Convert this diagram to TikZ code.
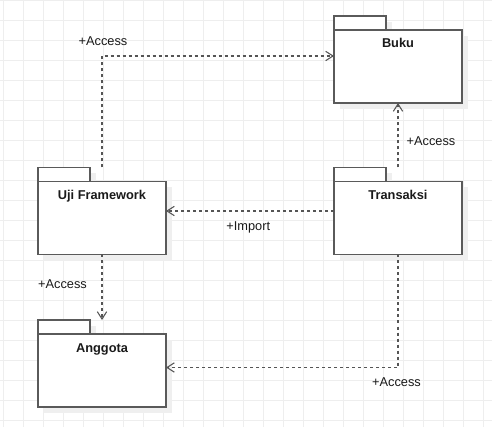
\documentclass[tikz,border=0pt]{standalone}
\usepackage{fontspec}
\setmainfont{Liberation Sans}
\usetikzlibrary{arrows.meta,calc}
\definecolor{gridc}{HTML}{EEEEEE}
\definecolor{shadc}{HTML}{EFEFEF}
\definecolor{boxc}{HTML}{5A5A5A}
\definecolor{edgec}{HTML}{555555}
\definecolor{txtc}{HTML}{1A1A1A}
\tikzset{
  gridline/.style={draw=gridc, line width=0.75pt},
  pkg/.style={minimum width=96pt, minimum height=65.25pt, inner sep=0pt, outer sep=0pt},
  pkgline/.style={draw=boxc, line width=1.1pt, fill=white},
  shadowbox/.style={fill=shadc, draw=none},
  pkgname/.style={font=\fontsize{9.6pt}{11pt}\selectfont\bfseries, text=txtc, anchor=base, inner sep=0pt},
  deplabel/.style={font=\fontsize{9.6pt}{11pt}\selectfont, text=txtc, anchor=base, inner sep=0pt},
  dep/.style={draw=edgec, line width=0.8pt, dash pattern=on 2.25pt off 2.25pt,
    -{Straight Barb[length=5.5pt, width=7pt, line width=0.8pt]}},
}
\newcommand{\drawpkg}[2]{%
  \fill[shadowbox] ($(#1.north west)+(6,6)$) rectangle ($(#1.north west)+(58,20)$);
  \fill[shadowbox] ($(#1.north west)+(6,20)$) rectangle ($(#1.south east)+(6,6)$);
  \draw[pkgline] (#1.north west) rectangle ($(#1.north west)+(52,14)$);
  \draw[pkgline] ($(#1.north west)+(0,14)$) rectangle (#1.south east);
  \node[pkgname] at ($(#1.north)+(0,32)$) {#2};
}
\begin{document}
\begin{tikzpicture}[x=0.75pt,y=-0.75pt]
\useasboundingbox (0,0) rectangle (492,427);
\fill[white] (0,0) rectangle (492,427);
\foreach \i in {0,...,24} \draw[gridline] ({3+20*\i},0) -- ({3+20*\i},427);
\foreach \j in {0,...,21} \draw[gridline] (0,{0.7+20*\j}) -- (492,{0.7+20*\j});

\node[pkg] (uji) at (102,211) {};
\node[pkg] (trans) at (398,211) {};
\node[pkg] (buku) at (398,59.5) {};
\node[pkg] (ang) at (102,363.5) {};

\drawpkg{uji}{Uji Framework}
\drawpkg{trans}{Transaksi}
\drawpkg{buku}{Buku}
\drawpkg{ang}{Anggota}

\draw[dep] (uji.north) |- ($(buku.west)+(0,-3.5)$);
\draw[dep] (trans.north) -- (buku.south);
\draw[dep] (trans.west) -- (uji.east);
\draw[dep] (uji.south) -- (ang.north);
\draw[dep] (trans.south) |- ($(ang.east)+(0,4)$);

\node[deplabel] (l1) at (103,45.6) {+Access};
\node[deplabel] (l2) at (431,145.6) {+Access};
\node[deplabel] (l3) at (248.3,230.3) {+Import};
\node[deplabel] (l4) at (62.5,288.9) {+Access};
\node[deplabel] (l5) at (396.5,386.9) {+Access};
\end{tikzpicture}
\end{document}
